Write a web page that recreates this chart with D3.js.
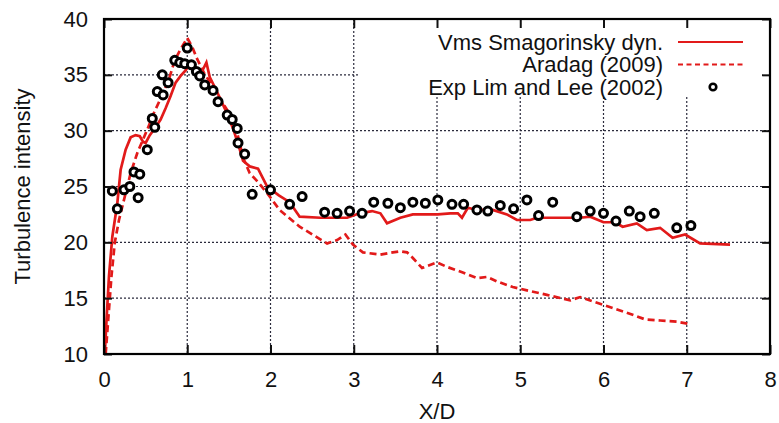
<!DOCTYPE html>
<html>
<head>
<meta charset="utf-8">
<script src="https://cdn.jsdelivr.net/npm/d3@7"></script>
<style>
  body { margin: 0; background: #fff; }
  text { font-family: "Liberation Sans", Arial, sans-serif; fill: #111; }
</style>
</head>
<body>
<svg width="779" height="423"></svg>
<script>
// Vms Smagorinsky dyn. (solid)
var vmsX = [0.01, 0.03, 0.06, 0.1, 0.16, 0.2, 0.26, 0.32, 0.38, 0.43, 0.47, 0.5, 0.55, 0.62, 0.68, 0.74, 0.8, 0.86, 0.92, 0.98,
  1.03, 1.08, 1.14, 1.19, 1.23, 1.27, 1.35, 1.45, 1.55, 1.62, 1.67, 1.75, 1.85, 1.96, 2.1, 2.23, 2.35, 2.6, 2.92, 3.07,
  3.22, 3.32, 3.4, 3.56, 3.71, 4.01, 4.16, 4.25, 4.3, 4.37, 4.48, 4.67, 4.84, 4.96, 5.12, 5.2, 5.72, 5.84, 6.0, 6.14,
  6.23, 6.4, 6.52, 6.68, 6.83, 6.98, 7.16, 7.52];
var vmsY = [10, 13, 17, 20.5, 23.5, 26.5, 28.3, 29.4, 29.6, 29.5, 29.0, 28.9, 29.6, 30.3, 31.0, 32.0, 33.1, 34.3, 34.9, 35.4,
  36.0, 35.6, 35.2, 35.5, 36.1, 34.8, 33.6, 32.0, 30.2, 28.6, 27.3, 26.8, 26.6, 25.0, 24.2, 23.6, 22.3, 22.2, 22.2, 22.6,
  22.8, 22.6, 21.7, 22.2, 22.5, 22.5, 22.6, 22.6, 22.2, 23.1, 22.9, 22.9, 22.5, 22.0, 22.0, 22.2, 22.2, 22.3, 21.8, 21.8,
  21.4, 21.7, 21.1, 21.3, 20.4, 20.7, 19.9, 19.8];

// Aradag (2009) (dashed)
var aradagX = [0.02, 0.05, 0.09, 0.13, 0.18, 0.24, 0.32, 0.4, 0.52, 0.6, 0.7, 0.78, 0.85, 0.92, 1.0, 1.06, 1.12, 1.2, 1.3, 1.4,
  1.5, 1.6, 1.67, 1.75, 1.85, 1.96, 2.11, 2.35, 2.68, 2.8, 2.9, 2.99, 3.11, 3.32, 3.47, 3.56, 3.64, 3.71, 3.82, 4.0,
  4.12, 4.31, 4.48, 4.6, 4.72, 4.91, 5.08, 5.32, 5.6, 5.72, 6.0, 6.28, 6.5, 6.68, 6.88, 7.02];
var aradagY = [10, 13, 17, 20, 22, 23.8, 26.2, 28.0, 30.1, 31.6, 33.2, 34.6, 36.3, 37.3, 38.3, 37.5, 36.4, 35.2, 34.0, 32.8,
  31.6, 29.8, 27.6, 26.2, 25.4, 24.4, 22.9, 21.4, 19.9, 20.2, 20.7, 19.8, 19.1, 18.9, 19.1, 19.2, 19.1, 18.6, 17.7, 18.2,
  17.8, 17.3, 16.8, 16.9, 16.5, 16.0, 15.7, 15.3, 14.8, 15.1, 14.4, 13.7, 13.1, 13.0, 12.9, 12.7];

// Exp Lim and Lee (2002)
var expX = [0.10, 0.16, 0.24, 0.31, 0.36, 0.41, 0.43, 0.52, 0.58, 0.61, 0.64, 0.70, 0.71, 0.77, 0.85, 0.91, 0.97, 1.00, 1.05, 1.11,
  1.15, 1.21, 1.31, 1.37, 1.48, 1.54, 1.60, 1.61, 1.69, 1.78, 2.00, 2.23, 2.38, 2.65, 2.80, 2.95, 3.10, 3.24, 3.41, 3.56,
  3.71, 3.86, 4.01, 4.18, 4.32, 4.48, 4.61, 4.76, 4.92, 5.08, 5.22, 5.39, 5.68, 5.84, 6.00, 6.15, 6.31, 6.44, 6.61, 6.88, 7.05];
var expY = [24.6, 23.0, 24.7, 25.0, 26.3, 24.0, 26.1, 28.3, 31.1, 30.3, 33.5, 35.0, 33.2, 34.3, 36.3, 36.1, 36.0, 37.4, 35.9, 35.3,
  34.9, 34.1, 33.6, 32.6, 31.4, 31.0, 30.2, 28.9, 27.9, 24.3, 24.7, 23.4, 24.1, 22.7, 22.6, 22.8, 22.6, 23.6, 23.5, 23.1,
  23.6, 23.5, 23.8, 23.4, 23.4, 22.9, 22.8, 23.3, 23.0, 23.8, 22.4, 23.6, 22.3, 22.8, 22.6, 21.9, 22.8, 22.3, 22.6, 21.3, 21.5];

var xTicks = [0, 1, 2, 3, 4, 5, 6, 7, 8];
var yTicks = [10, 15, 20, 25, 30, 35, 40];
var legendLabels = ["Vms Smagorinsky dyn.", "Aradag (2009)", "Exp Lim and Lee (2002)"];

var red = "#e21a1a";
var gridColor = "#2b2b3c";
var svg = d3.select("svg");
var margin = { top: 19, right: 9, bottom: 69, left: 104 };
var width = +svg.attr("width") - margin.left - margin.right;
var height = +svg.attr("height") - margin.top - margin.bottom;

var x = d3.scaleLinear().domain([0, 8]).range([0, width]);
var y = d3.scaleLinear().domain([10, 40]).range([height, 0]);

var g = svg.append("g")
  .attr("transform", "translate(" + margin.left + "," + margin.top + ")");

// legend box (grid is left out of it)
var legendLeft = 255, legendBottom = 78;

// dotted grid
g.selectAll("line.vx").data(xTicks.slice(1, -1)).enter().append("line")
  .attr("x1", function(d) { return x(d); }).attr("x2", function(d) { return x(d); })
  .attr("y1", function(d) { return x(d) > legendLeft ? legendBottom : 0; })
  .attr("y2", height)
  .attr("stroke", gridColor).attr("stroke-width", 1.2).attr("stroke-dasharray", "2,2");
g.selectAll("line.hy").data(yTicks.slice(1, -1)).enter().append("line")
  .attr("x1", 0)
  .attr("x2", function(d) { return y(d) < legendBottom ? legendLeft : width; })
  .attr("y1", function(d) { return y(d); }).attr("y2", function(d) { return y(d); })
  .attr("stroke", gridColor).attr("stroke-width", 1.2).attr("stroke-dasharray", "2,2");

// lines
var line = d3.line()
  .x(function(d) { return x(d[0]); })
  .y(function(d) { return y(d[1]); });

var vms = d3.zip(vmsX, vmsY);
var aradag = d3.zip(aradagX, aradagY);
var expPts = d3.zip(expX, expY);

g.append("path").datum(aradag)
  .attr("d", line).attr("fill", "none").attr("stroke", red)
  .attr("stroke-width", 2.7).attr("stroke-dasharray", "7,4");
g.append("path").datum(vms)
  .attr("d", line).attr("fill", "none").attr("stroke", red)
  .attr("stroke-width", 2.7);

// experimental points
g.append("g").selectAll("circle").data(expPts).enter().append("circle")
  .attr("cx", function(d) { return x(d[0]); })
  .attr("cy", function(d) { return y(d[1]); })
  .attr("r", 4)
  .attr("fill", "#fff").attr("stroke", "#000").attr("stroke-width", 3);

// axes with inward ticks
function styleAxis(sel) {
  sel.select(".domain").remove();
  sel.selectAll(".tick line").attr("stroke", "#111").attr("stroke-width", 2);
  sel.selectAll(".tick text").style("font-size", "22px");
}
g.append("g").attr("transform", "translate(0," + height + ")")
  .call(d3.axisBottom(x).tickValues(xTicks).tickSize(-9).tickPadding(17).tickFormat(d3.format("d")))
  .call(styleAxis);
g.append("g")
  .call(d3.axisTop(x).tickValues(xTicks).tickSize(-9).tickFormat(""))
  .call(styleAxis);
g.append("g")
  .call(d3.axisLeft(y).tickValues(yTicks).tickSize(-8).tickPadding(16).tickFormat(d3.format("d")))
  .call(styleAxis);
g.append("g").attr("transform", "translate(" + width + ",0)")
  .call(d3.axisRight(y).tickValues(yTicks).tickSize(-8).tickFormat(""))
  .call(styleAxis);
g.selectAll(".tick text").attr("fill", "#111");

// frame
g.append("rect").attr("width", width).attr("height", height)
  .attr("fill", "none").attr("stroke", "#000").attr("stroke-width", 2.2);

// legend
var lg = g.append("g").attr("transform", "translate(559,0)");
lg.selectAll("text").data(legendLabels).enter().append("text")
  .attr("x", 0).attr("y", function(d, i) { return 23 + i * 22.5; })
  .attr("dy", "0.35em").attr("text-anchor", "end")
  .style("font-size", "22px")
  .text(function(d) { return d; });
lg.append("line").attr("x1", 15).attr("x2", 80).attr("y1", 23).attr("y2", 23)
  .attr("stroke", red).attr("stroke-width", 2);
lg.append("line").attr("x1", 15).attr("x2", 80).attr("y1", 45.5).attr("y2", 45.5)
  .attr("stroke", red).attr("stroke-width", 2).attr("stroke-dasharray", "5,3.5");
lg.append("circle").attr("cx", 50).attr("cy", 68).attr("r", 3.3)
  .attr("fill", "#fff").attr("stroke", "#000").attr("stroke-width", 2.6);

// axis titles
svg.append("text")
  .attr("x", margin.left + x(4)).attr("y", 419)
  .attr("text-anchor", "middle").style("font-size", "22px")
  .text("X/D");
svg.append("text")
  .attr("transform", "translate(30," + (margin.top + height / 2) + ") rotate(-90)")
  .attr("text-anchor", "middle").style("font-size", "22px")
  .text("Turbulence intensity");
</script>
</body>
</html>
